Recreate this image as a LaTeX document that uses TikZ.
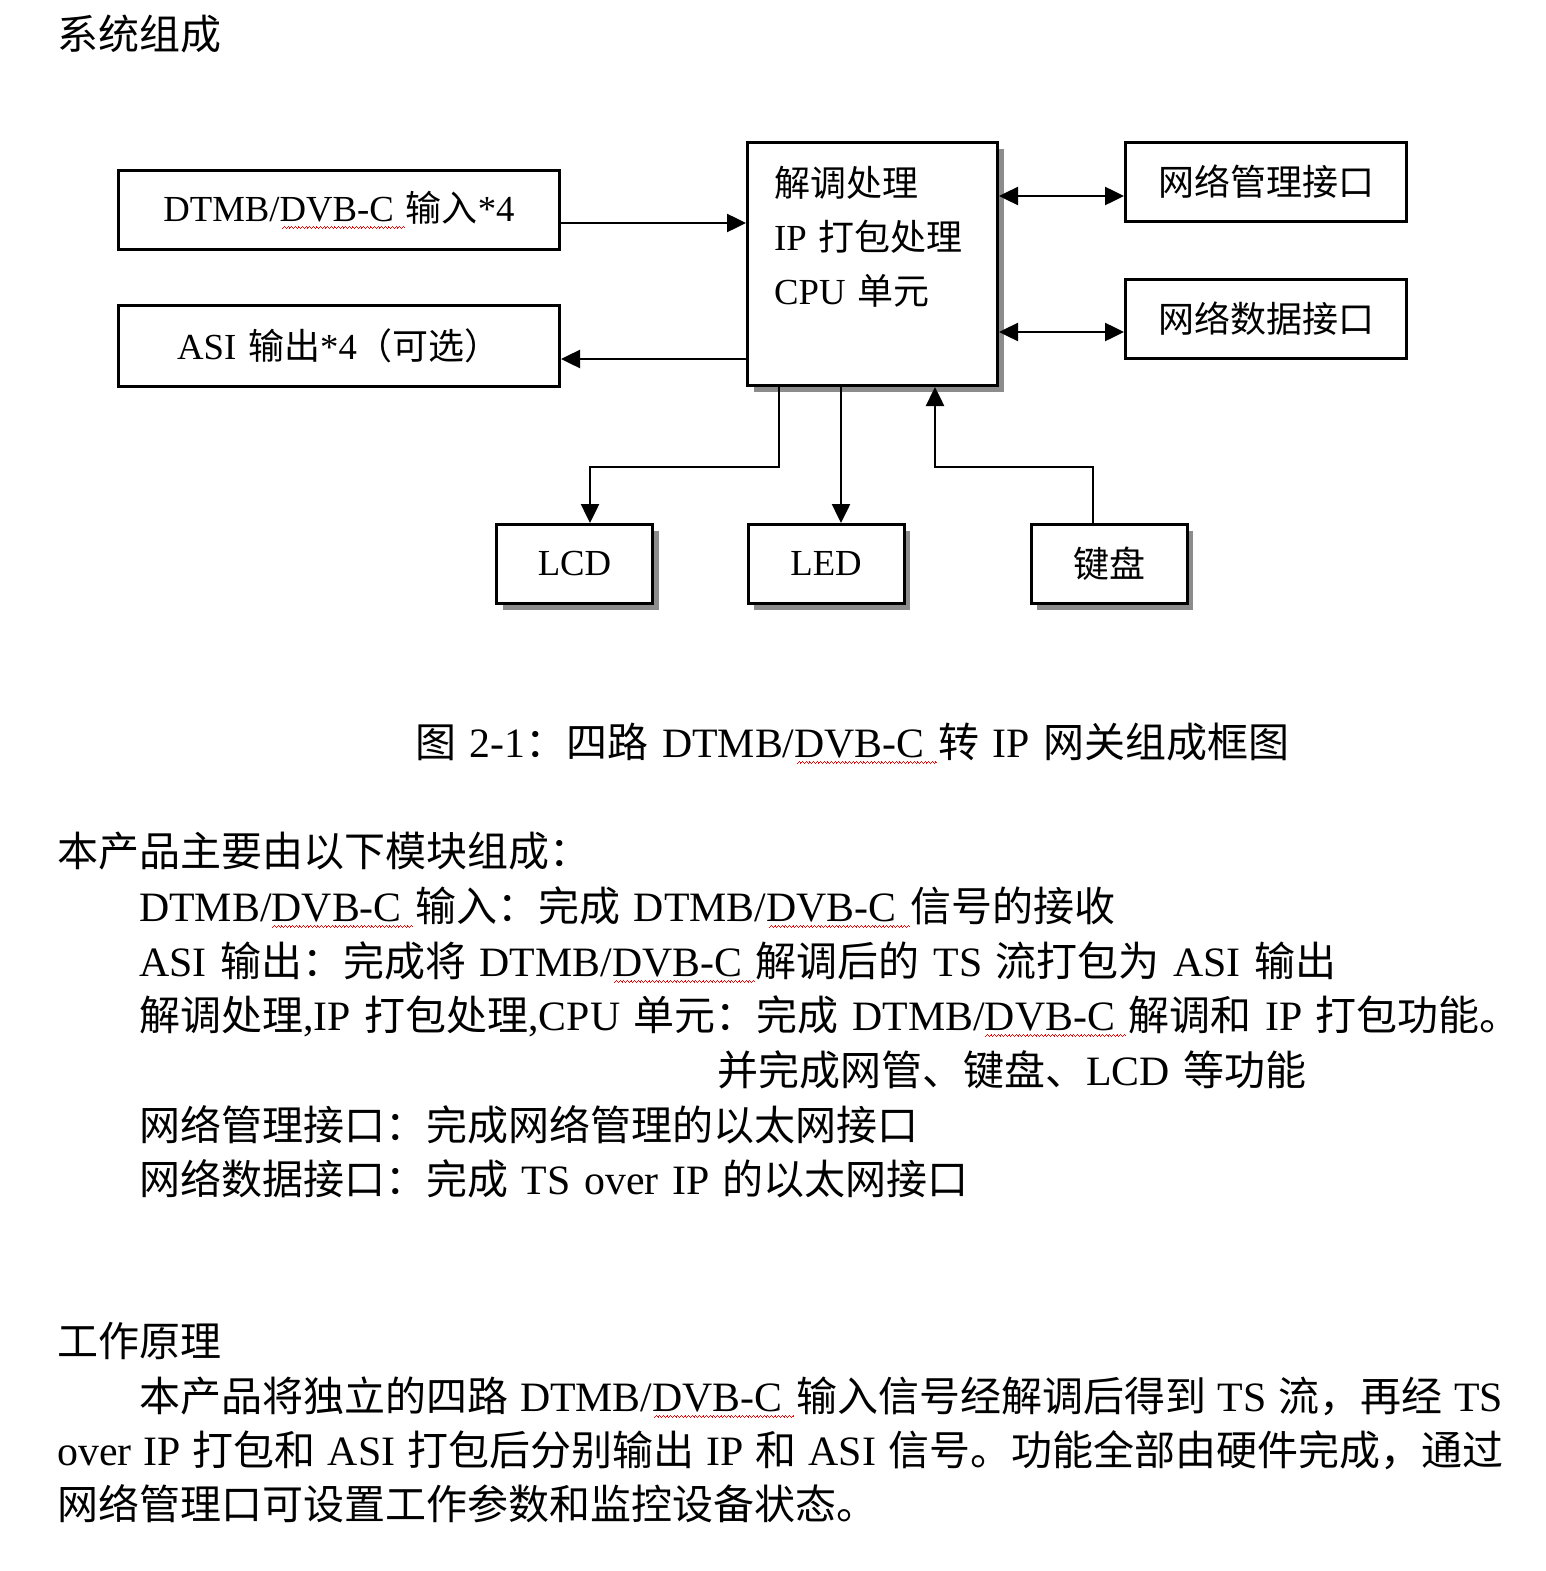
\documentclass[tikz,border=0pt]{standalone}
\usepackage{fontspec}
\setmainfont{Liberation Serif}[Scale=1.02,WordSpace=1.3]
\newfontfamily\cjk{Noto Sans CJK SC}
\usetikzlibrary{arrows.meta,shadows}
\newcommand\zh[1]{{\cjk #1}}
\newsavebox\splbox
\newcommand\spl[1]{\sbox\splbox{#1}\rlap{\usebox\splbox}{\color{red}\leaders\hbox{\rule[-7pt]{0.9pt}{1pt}\rule[-6pt]{0.9pt}{1pt}\rule[-5pt]{0.9pt}{1pt}\rule[-6pt]{0.9pt}{1pt}}\hskip\wd\splbox}}
\tikzset{
  box/.style={draw, line width=3pt, fill=white, inner sep=0pt, font=\fontsize{36}{40}\selectfont},
  shbox/.style={box, drop shadow={shadow xshift=6pt, shadow yshift=-6pt, fill=black!45, opacity=1}},
  arr/.style={line width=2.5pt, -{Triangle[length=19pt,width=18pt]}},
  arrb/.style={line width=2.5pt, {Triangle[length=19pt,width=18pt]}-{Triangle[length=19pt,width=18pt]}},
  txt/.style={anchor=base west, inner sep=0pt, font=\fontsize{41}{41}\selectfont},
  btxt/.style={anchor=base west, inner sep=0pt, font=\fontsize{36}{40}\selectfont},
}
\begin{document}
\begin{tikzpicture}[x=1pt,y=-1pt]
\useasboundingbox (0,0) rectangle (1545,1571);

% title
\node[txt] (title) at (57,49) {\zh{系统组成}};

% boxes
\node[box, minimum width=441pt, minimum height=79pt] (in) at (339,210) {DTMB/\spl{DVB-C }\zh{输入}*4};
\node[box, minimum width=441pt, minimum height=81pt] (asi) at (339,346) {ASI \zh{输出}*4\zh{（可选）}};
\node[shbox, minimum width=250pt, minimum height=243pt] (cpu) at (872.5,264) {};
\node[btxt] (cpu1) at (774,196) {\zh{解调处理}};
\node[btxt] (cpu2) at (774,250) {IP \zh{打包处理}};
\node[btxt] (cpu3) at (774,304) {CPU \zh{单元}};
\node[box, minimum width=281pt, minimum height=79pt] (mgmt) at (1266,182) {\zh{网络管理接口}};
\node[box, minimum width=281pt, minimum height=79pt] (data) at (1266,319) {\zh{网络数据接口}};
\node[shbox, minimum width=156pt, minimum height=79pt] (lcd) at (574.5,564) {LCD};
\node[shbox, minimum width=156pt, minimum height=79pt] (led) at (826,564) {LED};
\node[shbox, minimum width=156pt, minimum height=79pt] (kb) at (1109,564) {\zh{键盘}};

% connectors
\draw[arr] ([yshift=-13pt]in.east) -- ([yshift=-13pt]in.east -| cpu.west);
\draw[arr] ([yshift=-13pt]asi.east -| cpu.west) -- ([yshift=-13pt]asi.east);
\draw[arrb] ([yshift=-14pt]mgmt.west -| cpu.east) -- ([yshift=-14pt]mgmt.west);
\draw[arrb] ([yshift=-13pt]data.west -| cpu.east) -- ([yshift=-13pt]data.west);
\draw[arr] ([xshift=-93.5pt]cpu.south) |- ([xshift=15.5pt,yshift=56pt]lcd.north) -- ([xshift=15.5pt]lcd.north);
\draw[arr] ([xshift=15pt]led.north |- cpu.south) -- ([xshift=15pt]led.north);
\draw[arr] ([xshift=-16pt]kb.north) |- ([xshift=62.5pt,yshift=-80pt]cpu.south) -- ([xshift=62.5pt]cpu.south);

% caption
\node[txt] (cap) at (415,757) {\zh{图} 2-1\zh{：四路} DTMB/\spl{DVB-C }\zh{转} IP \zh{网关组成框图}};

% body
\node[txt] (b1) at (57,866) {\zh{本产品主要由以下模块组成：}};
\node[txt] (b2) at (139,921) {DTMB/\spl{DVB-C }\zh{输入：完成} DTMB/\spl{DVB-C }\zh{信号的接收}};
\node[txt] (b3) at (139,976) {ASI \zh{输出：完成将} DTMB/\spl{DVB-C }\zh{解调后的} TS \zh{流打包为} ASI \zh{输出}};
\node[txt] (b4) at (139,1030) {\zh{解调处理},IP \zh{打包处理},CPU \zh{单元：完成} DTMB/\spl{DVB-C }\zh{解调和} IP \zh{打包功能。}};
\node[txt] (b5) at (717,1085) {\zh{并完成网管、键盘、}LCD \zh{等功能}};
\node[txt] (b6) at (139,1140) {\zh{网络管理接口：完成网络管理的以太网接口}};
\node[txt] (b7) at (139,1194) {\zh{网络数据接口：完成} TS over IP \zh{的以太网接口}};

\node[txt] (h2) at (57,1356) {\zh{工作原理}};
\node[txt] (p1) at (139,1411) {\makebox[1364pt][s]{\zh{本产品将独立的四路} DTMB/\spl{DVB-C }\zh{输入信号经解调后得到} TS \zh{流，再经} TS}};
\node[txt] (p2) at (57,1465) {\makebox[1446pt][s]{over IP \zh{打包和} ASI \zh{打包后分别输出} IP \zh{和} ASI \zh{信号。功能全部由硬件完成，通过}}};
\node[txt] (p3) at (57,1519) {\zh{网络管理口可设置工作参数和监控设备状态。}};
\end{tikzpicture}
\end{document}
